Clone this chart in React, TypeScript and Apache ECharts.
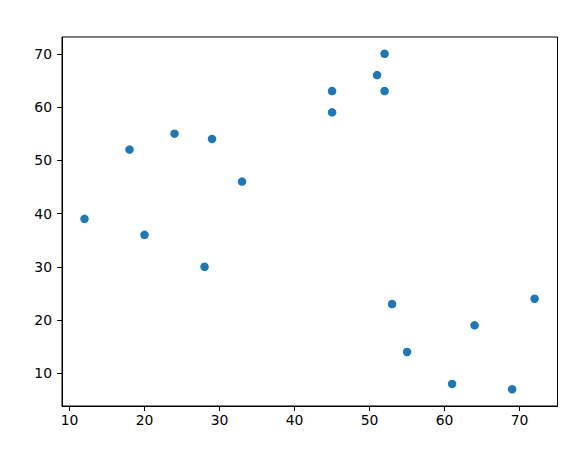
import React, { useEffect, useRef } from "react";
import * as echarts from "echarts";

const xValues = [12, 18, 20, 24, 28, 29, 33, 45, 45, 51, 52, 52, 53, 55, 61, 64, 69, 72];
const yValues = [39, 52, 36, 55, 30, 54, 46, 63, 59, 66, 70, 63, 23, 14, 8, 19, 7, 24];
const xTicks = [10, 20, 30, 40, 50, 60, 70];
const yTicks = [10, 20, 30, 40, 50, 60, 70];

export default function App() {
  const ref = useRef<HTMLDivElement>(null);
  useEffect(() => {
    if (!ref.current) return;
    const chart = echarts.init(ref.current, null, { renderer: "svg" });
    const font = { fontFamily: "DejaVu Sans", fontSize: 13.9, color: "#000" };
    chart.setOption({
      animation: false,
      backgroundColor: "#fff",
      grid: {
        left: 62,
        right: 25.5,
        top: 37,
        bottom: 50,
        show: true,
        borderColor: "#000",
        borderWidth: 1,
        backgroundColor: "transparent",
      },
      xAxis: {
        type: "value",
        min: 9,
        max: 75.05,
        splitLine: { show: false },
        axisLine: { show: true, onZero: false, lineStyle: { color: "#000", width: 1 } },
        axisTick: { show: true, length: 5, customValues: xTicks, lineStyle: { color: "#000" } },
        axisLabel: { ...font, margin: 7, customValues: xTicks },
      },
      yAxis: {
        type: "value",
        min: 3.85,
        max: 73.15,
        splitLine: { show: false },
        axisLine: { show: true, onZero: false, lineStyle: { color: "#000", width: 1 } },
        axisTick: { show: true, length: 5, customValues: yTicks, lineStyle: { color: "#000" } },
        axisLabel: { ...font, margin: 10, customValues: yTicks },
      },
      series: [
        {
          type: "scatter",
          symbol: "circle",
          symbolSize: 8.5,
          itemStyle: { color: "#1f77b4", opacity: 1 },
          data: xValues.map((x, i) => [x, yValues[i]]),
        },
      ],
    });
    return () => chart.dispose();
  }, []);
  return <div ref={ref} style={{ width: 583, height: 456, position: "absolute", left: 0, top: 0 }} />;
}
